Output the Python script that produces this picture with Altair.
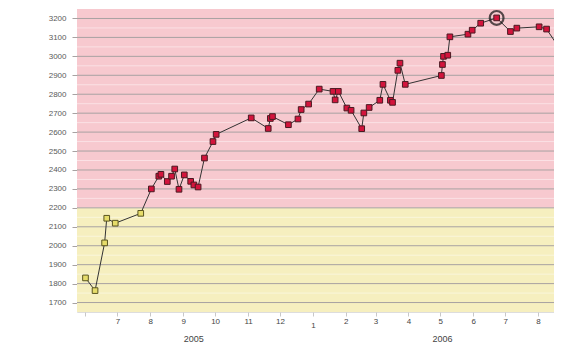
import altair as alt
import pandas as pd

# ---- data ----
dates = [
    "2005-06-01", "2005-06-10", "2005-06-19", "2005-06-21", "2005-06-29", "2005-07-23",
    "2005-08-02", "2005-08-09", "2005-08-11", "2005-08-17", "2005-08-21", "2005-08-24",
    "2005-08-28", "2005-09-02", "2005-09-08", "2005-09-11", "2005-09-15", "2005-09-21",
    "2005-09-29", "2005-10-02", "2005-11-04", "2005-11-20", "2005-11-22", "2005-11-24",
    "2005-12-09", "2005-12-18", "2005-12-21", "2005-12-28", "2006-01-07", "2006-01-20",
    "2006-01-22", "2006-01-25", "2006-02-02", "2006-02-06", "2006-02-16", "2006-02-18",
    "2006-02-23", "2006-03-05", "2006-03-08", "2006-03-15", "2006-03-17", "2006-03-22",
    "2006-03-24", "2006-03-29", "2006-05-02", "2006-05-03", "2006-05-04", "2006-05-08",
    "2006-05-10", "2006-05-27", "2006-05-31", "2006-06-08", "2006-06-23", "2006-07-06",
    "2006-07-12", "2006-08-02", "2006-08-09", "2006-08-20",
]
values = [
    1830, 1763, 2015, 2145, 2119, 2171,
    2300, 2367, 2377, 2339, 2367, 2405,
    2298, 2374, 2340, 2321, 2310, 2463,
    2550, 2588, 2675, 2619, 2672, 2682,
    2639, 2669, 2719, 2748, 2827, 2815,
    2770, 2815, 2727, 2715, 2618, 2701,
    2730, 2768, 2852, 2768, 2757, 2926,
    2964, 2852, 2899, 2957, 3000, 3006,
    3103, 3117, 3138, 3175, 3203, 3131,
    3149, 3156, 3144, 3052,
]
threshold = 2200
band_low = [1650, 2200]
band_high = [2200, 3250]
band_colors = ["#f6efbf", "#f7c9cf"]
major_ticks = list(range(1700, 3201, 100))
minor_ticks = list(range(1750, 3201, 100))
year_labels = ["2005", "2006"]
year_dates = ["2005-09-11", "2006-05-03"]

df = pd.DataFrame({"date": dates, "value": values})
df["idx"] = range(len(df))
df["zone"] = ["high" if v > threshold else "low" for v in values]
max_df = df[df["value"] == df["value"].max()]

bands = pd.DataFrame({"value": [band_low[0], band_high[0]], "v2": [band_low[1], band_high[1]],
                      "c": band_colors})
minor = pd.DataFrame({"value": minor_ticks})
years = pd.DataFrame({"date": year_dates, "label": year_labels})

W, H = 477, 303
xdom = [alt.DateTime(year=2005, month=5, date=24, utc=True),
        alt.DateTime(year=2006, month=8, date=16, utc=True)]
xscale = alt.Scale(type="utc", domain=xdom, nice=False)
yscale = alt.Scale(domain=[1650, 3250], nice=False, zero=False)

xaxis = alt.Axis(title=None,
                 labelExpr="utcFormat(datum.value, '%Y-%m') == '2005-06' ? '' : utcFormat(datum.value, '%-m')",
                 tickCount={"interval": "month", "step": 1},
                 grid=False, domain=False, tickColor="#c8c8c8", tickSize=4,
                 labelPadding=5,
                 labelBaseline={"condition": {"test": "utcFormat(datum.value, '%m') == '01'",
                                              "value": "top"},
                                "value": "middle"},
                 labelFontSize=8, labelColor="#444444",
                 labelFont="Liberation Sans", labelOverlap=False, labelFlush=False)
yaxis = alt.Axis(title=None, values=major_ticks, format="d", grid=True, gridColor="#a8a2a2",
                 gridWidth=1, domain=False, tickColor="#a8a2a2", tickSize=5,
                 labelPadding=6, labelFontSize=8, labelColor="#5a5a5a",
                 labelOverlap=False, labelFont="Liberation Sans")

X = alt.X("date:T", scale=xscale, axis=xaxis)
Y = alt.Y("value:Q", scale=yscale, axis=yaxis)

band_layer = alt.Chart(bands).mark_rect().encode(
    y=Y,
    y2="v2:Q",
    color=alt.Color("c:N", scale=None),
)

minor_layer = alt.Chart(minor).mark_rule(color="#ffffff", opacity=0.45, strokeWidth=1).encode(
    y=Y
)

grid_layer = alt.Chart(pd.DataFrame({"value": major_ticks})).mark_rule(
    color="#a8a2a2", strokeWidth=1).encode(y=Y)

line_layer = alt.Chart(df).mark_line(color="#333333", strokeWidth=1, clip=True).encode(
    x=X, y=Y, order="idx:Q",
)

point_layer = alt.Chart(df).mark_point(shape="square", filled=True, size=32,
                                       strokeWidth=1, opacity=1, clip=True).encode(
    x=X, y=Y,
    fill=alt.Fill("zone:N", scale=alt.Scale(domain=["high", "low"],
                                            range=["#d3143c", "#e6dc6a"]), legend=None),
    stroke=alt.Stroke("zone:N", scale=alt.Scale(domain=["high", "low"],
                                                range=["#4a1a22", "#5a5520"]), legend=None),
)

max_ring = alt.Chart(max_df).mark_point(shape="circle", filled=False, size=190,
                                        stroke="#111111", strokeWidth=2.2, clip=True).encode(
    x=X, y=Y,
)

year_layer = alt.Chart(years).mark_text(fontSize=9, font="Liberation Sans", color="#444444",
                                        baseline="bottom").encode(
    x=X,
    y=alt.value(H + 32),
    text="label:N",
)

chart = alt.layer(band_layer, minor_layer, grid_layer, line_layer, point_layer,
                  max_ring, year_layer).properties(
    width=W, height=H,
    autosize=alt.AutoSizeParams(type="none"),
    padding={"left": 69, "top": 1, "right": 0, "bottom": 32},
).configure_view(stroke="#b8b0b0", strokeWidth=1).configure(background="white")

chart.save("out.html", embed_options={"renderer": "svg", "actions": False})
